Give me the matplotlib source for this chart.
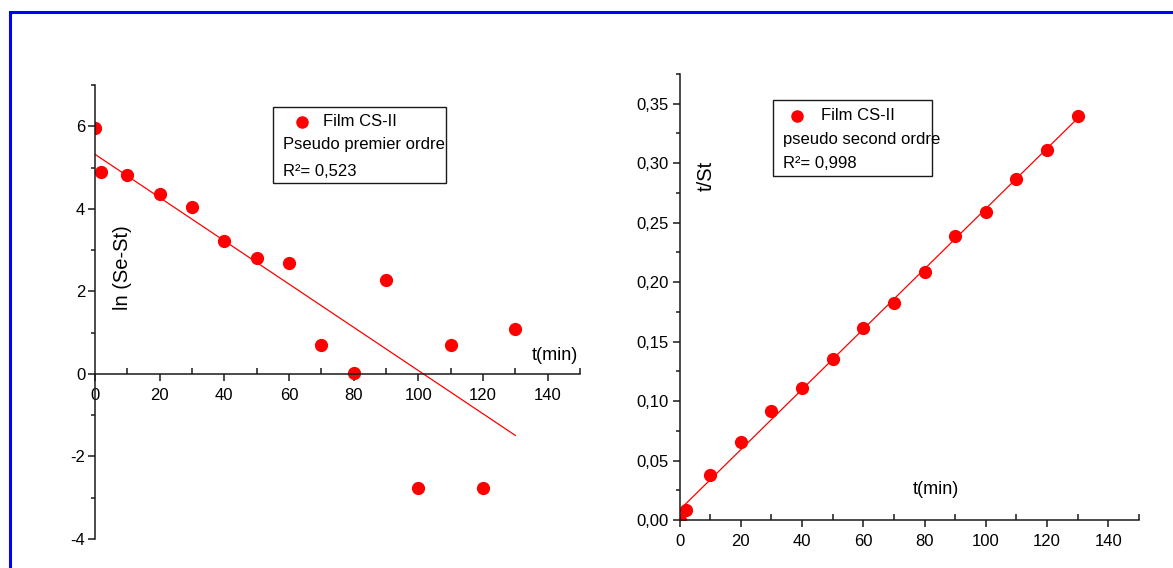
import matplotlib
matplotlib.use("Agg")
import matplotlib.pyplot as plt
import numpy as np
from matplotlib.lines import Line2D
from matplotlib.patches import Rectangle

# data
t = [0, 2, 10, 20, 30, 40, 50, 60, 70, 80, 90, 100, 110, 120, 130]
ln_se_st = [5.96, 4.88, 4.81, 4.37, 4.05, 3.23, 2.80, 2.69, 0.69, 0.03,
            2.28, -2.77, 0.69, -2.77, 1.09]
t_st = [0.0, 0.0082, 0.038, 0.0656, 0.0913, 0.111, 0.1354, 0.1618, 0.1824,
        0.2082, 0.2392, 0.2592, 0.2866, 0.3111, 0.3394]

x_ticks = [0, 20, 40, 60, 80, 100, 120, 140]
x_labels = ["0", "20", "40", "60", "80", "100", "120", "140"]
y1_ticks = [-4, -2, 0, 2, 4, 6]
y1_labels = ["-4", "-2", "0", "2", "4", "6"]
y2_ticks = [0, 0.05, 0.10, 0.15, 0.20, 0.25, 0.30, 0.35]
y2_labels = ["0,00", "0,05", "0,10", "0,15", "0,20", "0,25", "0,30", "0,35"]

legend1 = ["Film CS-II", "Pseudo premier ordre", "R\u00b2= 0,523"]
legend2 = ["Film CS-II", "pseudo second ordre", "R\u00b2= 0,998"]

W, H = 1173, 568
RED = "#ff0000"
AXC = "#1a1a1a"
TICKFONT = ["Liberation Sans Narrow", "Liberation Sans", "DejaVu Sans"]
plt.rcParams["font.family"] = ["Liberation Sans", "DejaVu Sans"]

fig = plt.figure(figsize=(W / 100, H / 100), dpi=100)


def fx(px):
    return px / W


def fy(py):
    return 1 - py / H


def setup_axes(ax, yticks, ylabels, yminor):
    for s in ["top", "right"]:
        ax.spines[s].set_visible(False)
    for s in ["left", "bottom"]:
        ax.spines[s].set_linewidth(1.1)
        ax.spines[s].set_color(AXC)
    ax.set_xticks(x_ticks, labels=x_labels, fontsize=12, family=TICKFONT)
    ax.set_xticks(np.arange(10, 151, 20), minor=True)
    ax.set_yticks(yticks, labels=ylabels, fontsize=12, family=TICKFONT)
    ax.set_yticks(yminor, minor=True)
    ax.tick_params(axis="x", which="major", direction="out", length=5,
                   width=1.1, color=AXC, pad=5)
    ax.tick_params(axis="x", which="minor", direction="in", length=4,
                   width=1.1, color=AXC)
    ax.tick_params(axis="y", which="major", direction="out", length=5,
                   width=1.1, color=AXC, pad=2)
    ax.tick_params(axis="y", which="minor", direction="out", length=3,
                   width=1.1, color=AXC)
    ax.set_facecolor("none")


def legend_box(x0, y0, x1, y1, mx, tx, lx, ys, texts):
    fig.patches.append(Rectangle((fx(x0), fy(y1)), fx(x1 - x0), (y1 - y0) / H,
                                 transform=fig.transFigure, fill=False,
                                 edgecolor=AXC, linewidth=1.0))
    fig.lines.append(Line2D([fx(mx)], [fy(ys[0])], transform=fig.transFigure,
                            marker="o", ms=8, color=RED, ls="none"))
    fig.text(fx(tx), fy(ys[0]), texts[0], fontsize=12, va="center", ha="left")
    fig.text(fx(lx), fy(ys[1]), texts[1], fontsize=12, va="center", ha="left")
    fig.text(fx(lx), fy(ys[2]), texts[2], fontsize=12, va="center", ha="left")


# left panel: pseudo premier ordre
ax1 = fig.add_axes([fx(95), fy(539), fx(580 - 95), (539 - 85) / H])
ax1.set_xlim(0, 150)
ax1.set_ylim(-4, 7)
ax1.spines["bottom"].set_position(("data", 0))
setup_axes(ax1, y1_ticks, y1_labels, [-3, -1, 1, 3, 5, 7])
k1 = np.polyfit(t, ln_se_st, 1)
tf = np.array([t[0], t[-1]])
ax1.plot(tf, np.polyval(k1, tf), color=RED, lw=0.9)
ax1.plot(t, ln_se_st, "o", color=RED, ms=8.5)
fig.text(fx(122), fy(268), "ln (Se-St)", rotation=90, fontsize=14.5,
         ha="center", va="center")
fig.text(fx(555), fy(355), "t(min)", fontsize=13, ha="center", va="center")
legend_box(273, 107, 446, 183, 302, 323, 283, [122, 145, 171], legend1)

# right panel: pseudo second ordre
ax2 = fig.add_axes([fx(679.5), fy(520), fx(1139 - 679.5), (520 - 74) / H])
ax2.set_xlim(0, 150)
ax2.set_ylim(0, 0.375)
setup_axes(ax2, y2_ticks, y2_labels, np.arange(0.025, 0.376, 0.05))
ax2.tick_params(axis="y", which="major", pad=3)
k2 = np.polyfit(t, t_st, 1)
ax2.plot(tf, np.polyval(k2, tf), color=RED, lw=0.9)
ax2.plot(t, t_st, "o", color=RED, ms=8.5)
fig.text(fx(706), fy(176), "t/St", rotation=90, fontsize=14.5,
         ha="center", va="center")
fig.text(fx(936), fy(490), "t(min)", fontsize=13, ha="center", va="center")
legend_box(773, 100, 932, 176, 797, 821, 783, [116, 139, 163], legend2)

# blue frame (left and top edges)
fig.lines.append(Line2D([fx(10), fx(10), 1.0], [0.0, fy(11.5), fy(11.5)],
                        transform=fig.transFigure, color="#0000ff", lw=2.2,
                        solid_joinstyle="miter"))

fig.savefig("out.png", dpi=100)
